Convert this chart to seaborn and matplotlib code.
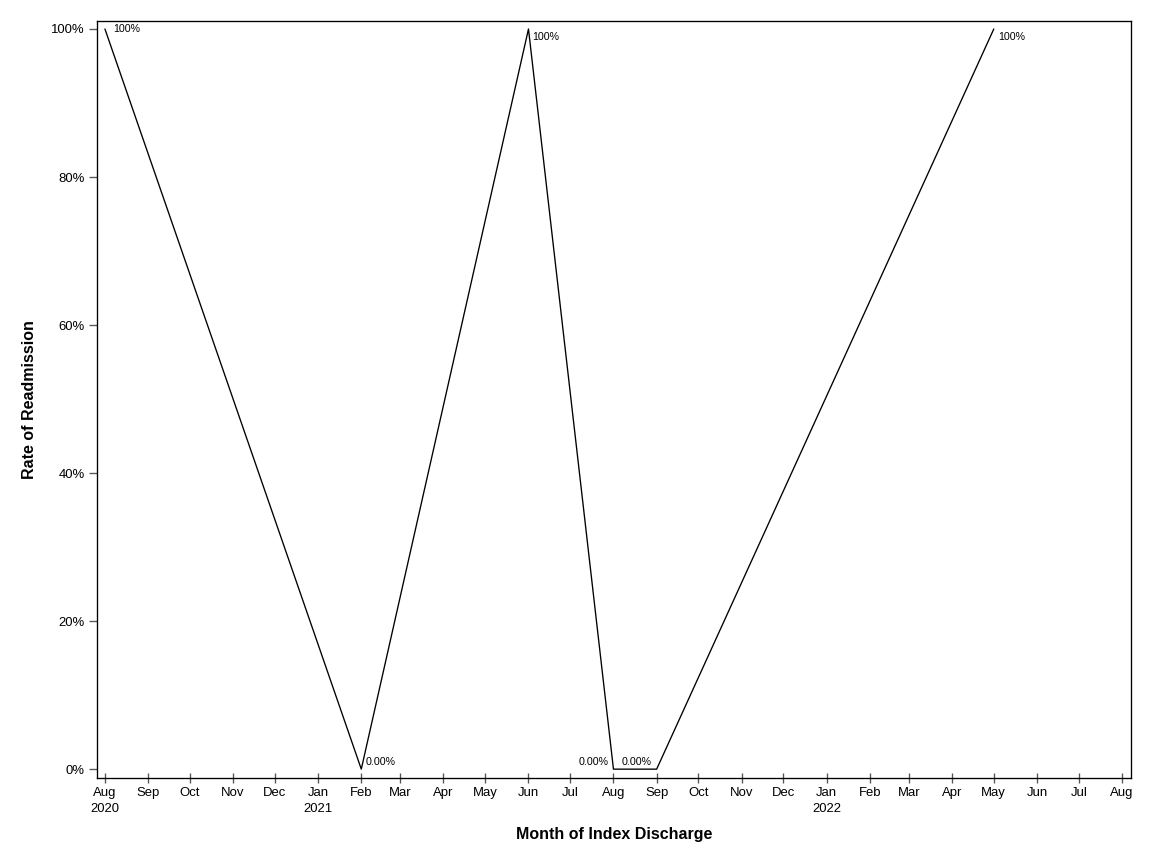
import pandas as pd
import seaborn as sns
import matplotlib.pyplot as plt
import matplotlib.ticker as mticker

months = ["2020-08-01", "2021-02-01", "2021-06-01", "2021-08-01", "2021-09-01", "2022-05-01"]
rates = [1.0, 0.0, 1.0, 0.0, 0.0, 1.0]
point_labels = ["100%", "0.00%", "100%", "0.00%", "0.00%", "100%"]

tick_months = pd.date_range("2020-08-01", "2022-08-01", freq="MS")

df = pd.DataFrame({"month": pd.to_datetime(months), "rate": rates})

sns.set_style("white")
plt.rcParams['font.family'] = ['Liberation Sans', 'DejaVu Sans']
plt.rcParams['text.color'] = 'black'
plt.rcParams['axes.labelcolor'] = 'black'
plt.rcParams['xtick.color'] = 'black'
plt.rcParams['ytick.color'] = 'black'

fig = plt.figure(figsize=(12, 9), dpi=96)
ax = fig.add_axes([0.0842, 0.0995, 0.8976, 0.8762])

sns.lineplot(data=df, x="month", y="rate", color="black", linewidth=1, ax=ax)

### label offsets (points) per data point, hand tuned to the reference
offsets = [(6, 0, "left", "center"), (3, 5, "left", "center"), (3, -6, "left", "center"),
           (-4, 5, "right", "center"), (-4, 5, "right", "center"), (3, -6, "left", "center")]
for m, r, lab, (dx, dy, ha, va) in zip(df["month"], df["rate"], point_labels, offsets):
    ax.annotate(lab, (m, r), xytext=(dx, dy), textcoords="offset points",
                ha=ha, va=va, fontsize=8, color="black")

ax.set_xlim(pd.Timestamp("2020-08-01") - pd.Timedelta(days=5.7),
            pd.Timestamp("2022-08-01") + pd.Timedelta(days=6.5))
ax.set_ylim(-0.012, 1.0108)

ax.set_xticks(tick_months)
xlabels = []
for d in tick_months:
    if d == tick_months[0] or d.month == 1:
        xlabels.append(d.strftime("%b") + "\n" + d.strftime("%Y"))
    else:
        xlabels.append(d.strftime("%b"))
ax.set_xticklabels(xlabels, linespacing=1.4)

ax.set_yticks([0, 0.2, 0.4, 0.6, 0.8, 1.0])
ax.yaxis.set_major_formatter(mticker.FuncFormatter(lambda v, p: f"{v*100:.0f}%"))

ax.tick_params(axis="x", direction="inout", length=8, width=1, color="#555555",
               labelsize=9.8, pad=3, labelcolor="black")
ax.tick_params(axis="y", direction="out", length=6, width=1, color="#555555",
               labelsize=9.8, pad=3, labelcolor="black")
ax.tick_params(bottom=True, left=True)

for s in ax.spines.values():
    s.set_color("black")
    s.set_linewidth(1)

ax.set_xlabel("Month of Index Discharge", fontsize=12, fontweight="bold", labelpad=9)
ax.set_ylabel("Rate of Readmission", fontsize=12, fontweight="bold", labelpad=11)

fig.savefig("out.png", dpi=96)
